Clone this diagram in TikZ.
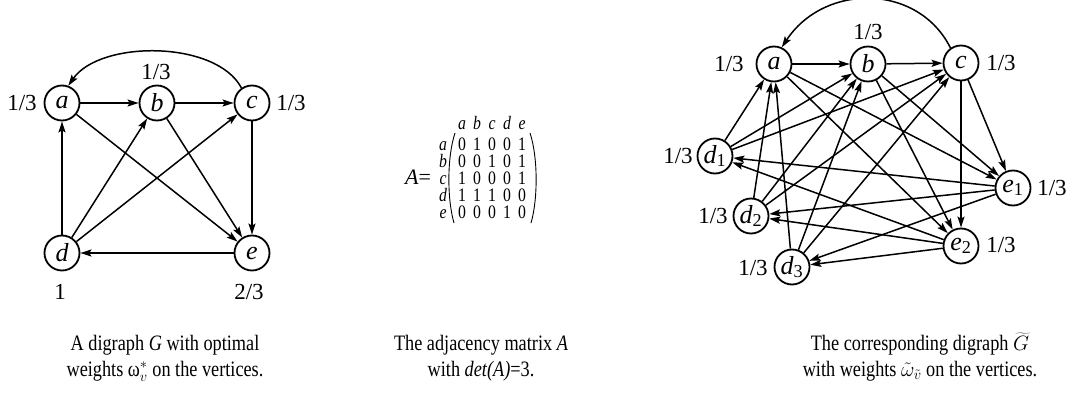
\documentclass[tikz,border=0pt]{standalone}
\usepackage{fontspec}
\setmainfont{Liberation Serif}
\newfontfamily\capfont{Liberation Serif}[FakeStretch=0.83]
\usetikzlibrary{arrows.meta}
\begin{document}
\begin{tikzpicture}[x=1pt,y=1pt,
  vtx/.style={circle, draw, line width=1.8pt, minimum size=35pt, inner sep=0pt, font=\fontsize{26}{30}\selectfont\itshape},
  lbl/.style={font=\fontsize{23}{27}\selectfont, inner sep=0pt},
  edge/.style={line width=1.5pt, -{Stealth[length=11pt,width=7pt,inset=2pt]}},
  capline/.style={font=\capfont\fontsize{22}{26}\selectfont, inner sep=0pt, anchor=base},
  mtx/.style={font=\capfont\fontsize{19}{19}\selectfont, inner sep=0pt, anchor=base},
  paren/.style={line width=0.9pt},
]
\useasboundingbox (0,0) rectangle (1078,397);

% ---------- left digraph G ----------
\node[vtx] (La) at (62,294) {a};
\node[vtx] (Lb) at (157,294) {b};
\node[vtx] (Lc) at (252,294) {c};
\node[vtx] (Ld) at (62,144) {d};
\node[vtx] (Le) at (252,144) {e};
\node[lbl] (wLa) at (22,294) {1/3};
\node[lbl] (wLb) at (156,325) {1/3};
\node[lbl] (wLc) at (291,294) {1/3};
\node[lbl] (wLd) at (60,105) {1};
\node[lbl] (wLe) at (249,105) {2/3};
\foreach \s/\t in {La/Lb, Lb/Lc, Lc/Le, Le/Ld, Ld/La, Ld/Lb, Ld/Lc, La/Le, Lb/Le}
  \draw[edge] (\s) -- (\t);
\draw[edge] (Lc.125) .. controls (216,357) and (100,357) .. (La.70);

% ---------- matrix ----------
\node[mtx, font=\fontsize{22}{22}\selectfont] (Aeq) at (418,213) {\textit{A}=};
\foreach \l [count=\j] in {a,b,c,d,e}
  \node[mtx] (h\j) at (447+15*\j,267) {\textit{\l}};
\foreach \l [count=\i] in {a,b,c,d,e}
  \node[mtx] (r\i) at (443,264-17*\i) {\textit{\l}};
\foreach \row [count=\i] in {{0,1,0,0,1},{0,0,1,0,1},{1,0,0,0,1},{1,1,1,0,0},{0,0,0,1,0}}
  \foreach \v [count=\j] in \row
    \node[mtx] (m\i\j) at (447+15*\j,264-17*\i) {\v};
\coordinate (lpt) at (455,264);
\coordinate (lpb) at (454,174);
\coordinate (rpt) at (530,264);
\coordinate (rpb) at (531,174);
\draw[paren] (lpt) .. controls (447,240) and (447,198) .. (lpb);
\draw[paren] (rpt) .. controls (538,240) and (538,198) .. (rpb);

% ---------- right digraph G~ ----------
\node[vtx] (Ra) at (774,333) {a};
\node[vtx] (Rb) at (868,333) {b};
\node[vtx] (Rc) at (961,334) {c};
\node[vtx] (Rd1) at (715,241) {d\textsubscript{\upshape 1}};
\node[vtx] (Rd2) at (751,181) {d\textsubscript{\upshape 2}};
\node[vtx] (Rd3) at (792,130) {d\textsubscript{\upshape 3}};
\node[vtx] (Re1) at (1013,209) {e\textsubscript{\upshape 1}};
\node[vtx] (Re2) at (961,151) {e\textsubscript{\upshape 2}};
\node[lbl] (wRa) at (729,333) {1/3};
\node[lbl] (wRb) at (868,365) {1/3};
\node[lbl] (wRc) at (1001,334) {1/3};
\node[lbl] (wRd1) at (678,241) {1/3};
\node[lbl] (wRd2) at (713,181) {1/3};
\node[lbl] (wRd3) at (753,129) {1/3};
\node[lbl] (wRe1) at (1052,209) {1/3};
\node[lbl] (wRe2) at (1001,152) {1/3};
\foreach \s/\t in {Ra/Rb, Rb/Rc, Ra/Re1, Ra/Re2, Rb/Re1, Rb/Re2, Rc/Re1, Rc/Re2,
  Rd1/Ra, Rd1/Rb, Rd1/Rc, Rd2/Ra, Rd2/Rb, Rd2/Rc, Rd3/Ra, Rd3/Rb, Rd3/Rc,
  Re1/Rd1, Re1/Rd2, Re1/Rd3, Re2/Rd1, Re2/Rd2, Re2/Rd3}
  \draw[edge] (\s) -- (\t);
\draw[edge] (Rc.125) .. controls (918,414) and (824,414) .. (Ra.65);

% ---------- captions ----------
\node[capline] (c1a) at (165,47) {A digraph \textit{G} with optimal};
\node[capline] (c1b) at (165,21) {weights ω$^{*}_{v}$ on the vertices.};
\node[capline] (c2a) at (481,47) {The adjacency matrix \textit{A}};
\node[capline] (c2b) at (481,21) {with \textit{det(A)}=3.};
\node[capline] (c3a) at (920,47) {The corresponding digraph $\widetilde{G}$};
\node[capline] (c3b) at (920,21) {with weights $\tilde{\omega}_{\tilde{v}}$ on the vertices.};
\end{tikzpicture}
\end{document}
